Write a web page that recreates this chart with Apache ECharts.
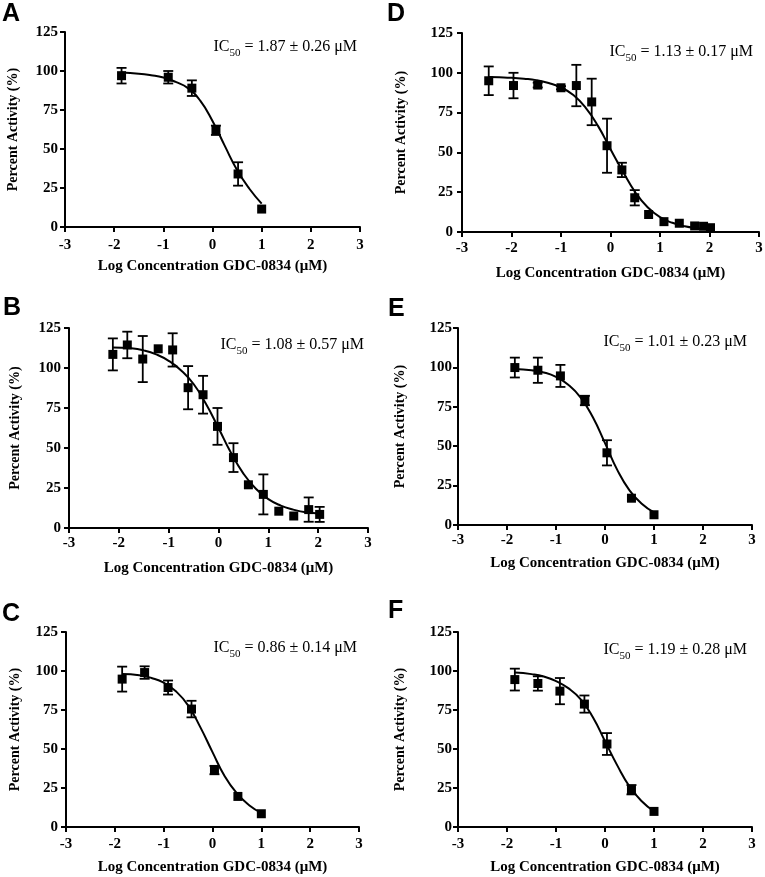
<!DOCTYPE html>
<html>
<head>
<meta charset="utf-8">
<script src="https://cdn.jsdelivr.net/npm/echarts@6/dist/echarts.min.js"></script>
<style>
html,body{margin:0;padding:0;background:#fff;}
#chart{width:765px;height:877px;}
</style>
</head>
<body>
<div id="chart"></div>
<script>
// ---------- shared axis ticks ----------
const xTicks = [-3, -2, -1, 0, 1, 2, 3];
const yTicks = [0, 25, 50, 75, 100, 125];
const xTitle = 'Log Concentration GDC-0834 (μM)';
const yTitle = 'Percent Activity (%)';

// ---------- Panel A ----------
const logConcA = [-1.85, -0.90, -0.42, 0.07, 0.52, 1.00];
const activityA = [97, 96, 89, 62, 34, 11.5];
const errA = [5, 4, 5, 3, 7.5, 0];
const fitXA = [-1.85, -1.5, -1.25, -1, -0.75, -0.5, -0.25, 0, 0.25, 0.5, 0.75, 1];
const fitYA = [99, 98.3, 97.3, 95.8, 93, 89, 81, 68, 52, 36.5, 24.5, 15];
const ic50A = '1.87 ± 0.26 μM';

// ---------- Panel B ----------
const logConcB = [-2.12, -1.83, -1.52, -1.21, -0.92, -0.61, -0.31, -0.02, 0.30, 0.60, 0.90, 1.21, 1.51, 1.81, 2.03];
const activityB = [108.5, 114.4, 105.6, 112, 111.3, 87.7, 83.3, 63.5, 44, 27, 21, 10.5, 7.5, 11.5, 8.5];
const errB = [10, 8.3, 14.4, 0, 10.4, 13.5, 11.8, 11.5, 9, 0, 12.5, 0, 0, 7.6, 4.7];
const fitXB = [-2.12, -1.75, -1.5, -1.25, -1, -0.75, -0.5, -0.25, 0, 0.25, 0.5, 0.75, 1, 1.25, 1.5, 1.75, 2.03];
const fitYB = [112.8, 112.3, 111, 108.5, 104.5, 98.5, 90, 77.5, 62.5, 47, 34, 24.5, 18, 14, 11.5, 9.8, 9];
const ic50B = '1.08 ± 0.57 μM';

// ---------- Panel C ----------
const logConcC = [-1.85, -1.39, -0.91, -0.43, 0.04, 0.52, 1.00];
const activityC = [94.8, 99, 89.4, 75.6, 36.5, 19.6, 8.5];
const errC = [8, 4, 4.5, 5.3, 2.7, 0, 0];
const fitXC = [-1.85, -1.5, -1.25, -1, -0.75, -0.5, -0.25, 0, 0.25, 0.5, 0.75, 1];
const fitYC = [98, 97.3, 95.5, 92.5, 87, 78, 64, 48, 32.5, 21.5, 14, 9];
const ic50C = '0.86 ± 0.14 μM';

// ---------- Panel D ----------
const logConcD = [-2.46, -1.96, -1.47, -1.00, -0.69, -0.38, -0.07, 0.23, 0.49, 0.77, 1.08, 1.39, 1.70, 1.88, 2.02];
const activityD = [95, 92, 92.3, 90.6, 92, 81.7, 54.2, 39, 21.5, 11, 6.5, 5.5, 3.8, 3.6, 2.7];
const errD = [9, 8, 1.5, 1, 13, 14.6, 17, 4.5, 4.8, 0, 0, 0, 0, 0, 0];
const fitXD = [-2.46, -2.25, -2, -1.75, -1.5, -1.25, -1, -0.75, -0.5, -0.25, 0, 0.25, 0.5, 0.75, 1, 1.25, 1.5, 1.75, 2.02];
const fitYD = [97.4, 97.2, 96.9, 96.3, 95.4, 93.6, 90.8, 86, 78, 66.5, 52, 38, 25, 15.5, 9.3, 5.8, 3.6, 2.4, 1.6];
const ic50D = '1.13 ± 0.17 μM';

// ---------- Panel E ----------
const logConcE = [-1.84, -1.37, -0.91, -0.41, 0.04, 0.54, 1.00];
const activityE = [99.9, 98.2, 94.6, 79, 45.8, 17, 6.5];
const errE = [6.3, 8, 7, 3, 8, 0, 0];
const fitXE = [-1.84, -1.5, -1.25, -1, -0.75, -0.5, -0.25, 0, 0.25, 0.5, 0.75, 1];
const fitYE = [99, 98.2, 96.8, 94, 89, 81, 68.5, 52, 35, 22, 13.5, 8];
const ic50E = '1.01 ± 0.23 μM';

// ---------- Panel F ----------
const logConcF = [-1.84, -1.37, -0.92, -0.42, 0.04, 0.54, 1.00];
const activityF = [94.5, 92, 87.1, 78.8, 53.2, 23.9, 10];
const errF = [7, 4.6, 8.4, 5.5, 7, 3, 0];
const fitXF = [-1.84, -1.5, -1.25, -1, -0.75, -0.5, -0.25, 0, 0.25, 0.5, 0.75, 1];
const fitYF = [99, 98, 96.5, 93.5, 89, 82, 70.5, 55, 39.5, 26, 16.5, 10];
const ic50F = '1.19 ± 0.28 μM';

// ---------- panel assembly ----------
const panels = [
  {letter: 'A', x: logConcA, y: activityA, e: errA, fx: fitXA, fy: fitYA, ic: ic50A,
   grid: {left: 65, top: 32, width: 295, height: 195}, letterPos: [2, 14], icPos: [357, 53],
   xLabelMargin: 11, xNameGap: 39, yLabelMargin: 7, yNameGap: 52},
  {letter: 'B', x: logConcB, y: activityB, e: errB, fx: fitXB, fy: fitYB, ic: ic50B,
   grid: {left: 69, top: 328, width: 299, height: 200}, letterPos: [3, 308], icPos: [364, 351],
   xLabelMargin: 8, xNameGap: 40, yLabelMargin: 8, yNameGap: 54},
  {letter: 'C', x: logConcC, y: activityC, e: errC, fx: fitXC, fy: fitYC, ic: ic50C,
   grid: {left: 66, top: 632, width: 293, height: 195}, letterPos: [2, 614], icPos: [357, 654],
   xLabelMargin: 10, xNameGap: 40, yLabelMargin: 8, yNameGap: 51},
  {letter: 'D', x: logConcD, y: activityD, e: errD, fx: fitXD, fy: fitYD, ic: ic50D,
   grid: {left: 462, top: 33, width: 297, height: 199}, letterPos: [387, 14], icPos: [753, 58],
   xLabelMargin: 9, xNameGap: 41, yLabelMargin: 9, yNameGap: 61},
  {letter: 'E', x: logConcE, y: activityE, e: errE, fx: fitXE, fy: fitYE, ic: ic50E,
   grid: {left: 458, top: 328, width: 294, height: 197}, letterPos: [388, 309], icPos: [747, 348],
   xLabelMargin: 8, xNameGap: 38, yLabelMargin: 6, yNameGap: 58},
  {letter: 'F', x: logConcF, y: activityF, e: errF, fx: fitXF, fy: fitYF, ic: ic50F,
   grid: {left: 458, top: 632, width: 294, height: 195}, letterPos: [388, 611], icPos: [747, 656],
   xLabelMargin: 10, xNameGap: 40, yLabelMargin: 6, yNameGap: 58}
];

const SERIF = '"Liberation Serif", "Times New Roman", serif';
const SANS = '"Liberation Sans", Arial, sans-serif';

function errorBarRender(params, api) {
  const x = api.value(0), y = api.value(1), e = api.value(2);
  if (!e) return null;
  const top = api.coord([x, y + e]);
  const bot = api.coord([x, y - e]);
  const w = 5;
  const st = {stroke: '#000', lineWidth: 1.8};
  return {
    type: 'group',
    children: [
      {type: 'line', shape: {x1: top[0], y1: top[1], x2: bot[0], y2: bot[1]}, style: st},
      {type: 'line', shape: {x1: top[0] - w, y1: top[1], x2: top[0] + w, y2: top[1]}, style: st},
      {type: 'line', shape: {x1: bot[0] - w, y1: bot[1], x2: bot[0] + w, y2: bot[1]}, style: st}
    ]
  };
}

const grids = [], xAxes = [], yAxes = [], series = [], graphics = [];
panels.forEach((p, i) => {
  grids.push(Object.assign({containLabel: false, outerBoundsMode: 'none'}, p.grid));
  xAxes.push({
    type: 'value', gridIndex: i,
    min: xTicks[0], max: xTicks[xTicks.length - 1], interval: xTicks[1] - xTicks[0],
    axisLine: {show: true, onZero: false, lineStyle: {color: '#000', width: 2}},
    axisTick: {show: true, inside: false, length: 5, lineStyle: {color: '#000', width: 2}},
    axisLabel: {color: '#000', fontFamily: SERIF, fontWeight: 'bold', fontSize: 15, margin: p.xLabelMargin},
    splitLine: {show: false},
    name: xTitle, nameLocation: 'middle', nameGap: p.xNameGap, nameMoveOverlap: false,
    nameTextStyle: {color: '#000', fontFamily: SERIF, fontWeight: 'bold', fontSize: 15, verticalAlign: 'middle'}
  });
  yAxes.push({
    type: 'value', gridIndex: i,
    min: yTicks[0], max: yTicks[yTicks.length - 1], interval: yTicks[1] - yTicks[0],
    axisLine: {show: true, onZero: false, lineStyle: {color: '#000', width: 2}},
    axisTick: {show: true, inside: false, length: 5, lineStyle: {color: '#000', width: 2}},
    axisLabel: {color: '#000', fontFamily: SERIF, fontWeight: 'bold', fontSize: 15, margin: p.yLabelMargin},
    splitLine: {show: false},
    name: yTitle, nameLocation: 'middle', nameGap: p.yNameGap, nameMoveOverlap: false,
    nameTextStyle: {color: '#000', fontFamily: SERIF, fontWeight: 'bold', fontSize: 14, verticalAlign: 'middle'}
  });
  series.push({
    type: 'line', xAxisIndex: i, yAxisIndex: i,
    data: p.fx.map((x, k) => [x, p.fy[k]]),
    smooth: 0.5, showSymbol: false, symbol: 'none',
    lineStyle: {color: '#000', width: 2}, silent: true, z: 2
  });
  series.push({
    type: 'custom', xAxisIndex: i, yAxisIndex: i,
    data: p.x.map((x, k) => [x, p.y[k], p.e[k]]),
    encode: {x: 0, y: 1},
    renderItem: errorBarRender, silent: true, z: 3
  });
  series.push({
    type: 'scatter', xAxisIndex: i, yAxisIndex: i,
    data: p.x.map((x, k) => [x, p.y[k]]),
    symbol: 'rect', symbolSize: 9,
    itemStyle: {color: '#000', opacity: 1}, silent: true, z: 4
  });
  graphics.push({
    type: 'text', x: p.letterPos[0], y: p.letterPos[1],
    style: {text: p.letter, font: 'bold 25px ' + SANS, fill: '#000', align: 'left', verticalAlign: 'middle'}
  });
  graphics.push({
    type: 'text', x: p.icPos[0], y: p.icPos[1],
    style: {
      text: '{m|IC}{s|50}{m| = ' + p.ic + '}',
      align: 'right', verticalAlign: 'middle', fill: '#000',
      rich: {
        m: {fontFamily: SERIF, fontSize: 16, lineHeight: 16, verticalAlign: 'top', fill: '#000'},
        s: {fontFamily: SERIF, fontSize: 11, lineHeight: 28, verticalAlign: 'middle', fill: '#000'}
      }
    }
  });
});

const chart = echarts.init(document.getElementById('chart'), null, {renderer: 'canvas'});
chart.setOption({
  animation: false,
  backgroundColor: '#fff',
  grid: grids,
  xAxis: xAxes,
  yAxis: yAxes,
  series: series,
  graphic: graphics
});
</script>
</body>
</html>
